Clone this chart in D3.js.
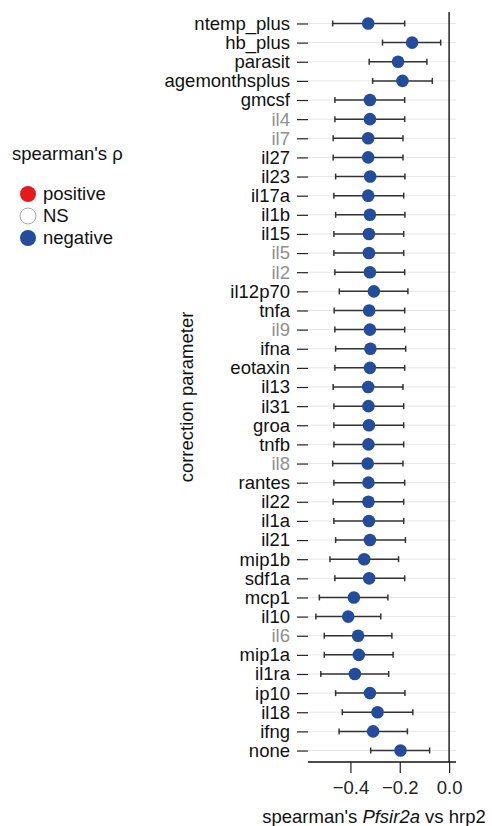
<!DOCTYPE html>
<html>
<head>
<meta charset="utf-8">
<script src="https://cdn.jsdelivr.net/npm/d3@7"></script>
<style>
  body { margin: 0; background: #fff; }
  svg { font-family: "Liberation Sans", Arial, Helvetica, sans-serif; }
</style>
</head>
<body>
<svg width="492" height="826"></svg>
<script>
var params = ["ntemp_plus", "hb_plus", "parasit", "agemonthsplus", "gmcsf", "il4", "il7", "il27", "il23", "il17a",
  "il1b", "il15", "il5", "il2", "il12p70", "tnfa", "il9", "ifna", "eotaxin", "il13",
  "il31", "groa", "tnfb", "il8", "rantes", "il22", "il1a", "il21", "mip1b", "sdf1a",
  "mcp1", "il10", "il6", "mip1a", "il1ra", "ip10", "il18", "ifng", "none"];
var rho = [-0.328, -0.150, -0.207, -0.189, -0.321, -0.321, -0.328, -0.328, -0.320, -0.328,
  -0.321, -0.325, -0.325, -0.321, -0.305, -0.324, -0.321, -0.319, -0.321, -0.328,
  -0.327, -0.325, -0.327, -0.330, -0.327, -0.327, -0.325, -0.321, -0.344, -0.324,
  -0.386, -0.409, -0.369, -0.366, -0.382, -0.321, -0.290, -0.308, -0.197];
var lower = [-0.472, -0.270, -0.324, -0.310, -0.463, -0.463, -0.470, -0.470, -0.460, -0.467,
  -0.460, -0.467, -0.467, -0.463, -0.445, -0.466, -0.463, -0.460, -0.463, -0.470,
  -0.467, -0.467, -0.467, -0.472, -0.467, -0.470, -0.467, -0.460, -0.483, -0.463,
  -0.526, -0.540, -0.506, -0.506, -0.520, -0.460, -0.433, -0.446, -0.318];
var upper = [-0.180, -0.034, -0.090, -0.068, -0.180, -0.180, -0.187, -0.187, -0.179, -0.184,
  -0.179, -0.184, -0.184, -0.180, -0.167, -0.180, -0.180, -0.176, -0.180, -0.187,
  -0.184, -0.184, -0.184, -0.187, -0.180, -0.184, -0.184, -0.177, -0.205, -0.180,
  -0.248, -0.277, -0.232, -0.227, -0.245, -0.179, -0.147, -0.169, -0.079];
// labels drawn in grey
var greyParams = ["il4", "il7", "il5", "il2", "il9", "il8", "il6"];
var xTicks = [-0.4, -0.2, 0.0];
var legendLabels = ["positive", "NS", "negative"];
var legendFill = {positive: "#e41a1c", NS: "#ffffff", negative: "#234c9c"};

var data = params.map(function(p, i) {
  return {param: p, rho: rho[i], lo: lower[i], hi: upper[i], sign: "negative"};
});

var svg = d3.select("svg"),
    margin = {top: 12, right: 36, bottom: 64, left: 308},
    width = +svg.attr("width") - margin.left - margin.right,
    height = +svg.attr("height") - margin.top - margin.bottom,
    g = svg.append("g").attr("transform", "translate(" + margin.left + "," + margin.top + ")");

var x = d3.scaleLinear()
    .domain([-0.572, 0.028])
    .range([0, width]);
var y = d3.scalePoint()
    .domain(params)
    .range([0, height])
    .padding(0.6);

// grid lines
g.append("g")
  .selectAll("line")
  .data(params)
  .enter().append("line")
    .attr("x1", 0)
    .attr("x2", width)
    .attr("y1", function(d) { return y(d); })
    .attr("y2", function(d) { return y(d); })
    .style("stroke", "#e6e6e6")
    .style("stroke-width", 1);

// zero line
g.append("line")
    .attr("x1", x(0)).attr("x2", x(0))
    .attr("y1", 0).attr("y2", height)
    .style("stroke", "#000")
    .style("stroke-width", 1.3);

// y axis
var yAxis = g.append("g")
    .call(d3.axisLeft(y).tickSize(11).tickPadding(7));
yAxis.select(".domain").remove();
yAxis.selectAll(".tick line").style("stroke", "#222").style("stroke-width", 1.2);
yAxis.selectAll(".tick text")
    .style("font-size", "18.5px")
    .style("font-family", "inherit")
    .attr("fill", function(d) { return greyParams.indexOf(d) >= 0 ? "#909090" : "#111"; });

// x axis
var xAxis = g.append("g")
    .attr("transform", "translate(0," + height + ")")
    .call(d3.axisBottom(x).tickValues(xTicks).tickSize(11).tickPadding(8)
      .tickFormat(function(d) { return d3.format(".1f")(d).replace("-", "\u2212"); }));
xAxis.select(".domain").attr("d", "M0,0H" + width).style("stroke", "#111").style("stroke-width", 1.3);
xAxis.selectAll(".tick line").style("stroke", "#222").style("stroke-width", 1.2);
xAxis.selectAll(".tick text").style("font-size", "18.5px").style("font-family", "inherit").attr("fill", "#222");

// error bars
var bars = g.append("g").selectAll("g")
  .data(data)
  .enter().append("g")
    .attr("transform", function(d) { return "translate(0," + y(d.param) + ")"; });
bars.append("line")
    .attr("x1", function(d) { return x(d.lo); })
    .attr("x2", function(d) { return x(d.hi); })
    .style("stroke", "#333")
    .style("stroke-width", 1.5);
bars.append("line")
    .attr("x1", function(d) { return x(d.lo); })
    .attr("x2", function(d) { return x(d.lo); })
    .attr("y1", -3).attr("y2", 3)
    .style("stroke", "#333")
    .style("stroke-width", 1.5);
bars.append("line")
    .attr("x1", function(d) { return x(d.hi); })
    .attr("x2", function(d) { return x(d.hi); })
    .attr("y1", -3).attr("y2", 3)
    .style("stroke", "#333")
    .style("stroke-width", 1.5);
bars.append("circle")
    .attr("cx", function(d) { return x(d.rho); })
    .attr("r", 6.3)
    .style("fill", function(d) { return legendFill[d.sign]; });

// axis titles
svg.append("text")
    .attr("x", margin.left + width / 2 - 8)
    .attr("y", 823)
    .attr("text-anchor", "middle")
    .style("font-size", "18.5px")
    .attr("fill", "#111")
    .html('spearman\'s <tspan font-style="italic">Pfsir2a</tspan> vs hrp2');

svg.append("text")
    .attr("transform", "translate(193," + (margin.top + height / 2 + 10) + ") rotate(-90)")
    .attr("text-anchor", "middle")
    .style("font-size", "18.5px")
    .attr("fill", "#111")
    .text("correction parameter");

// legend
var legend = svg.append("g").attr("transform", "translate(12,160)");
legend.append("text")
    .style("font-size", "18.5px")
    .attr("fill", "#111")
    .text("spearman's \u03c1");
var items = legend.selectAll(".item")
  .data(legendLabels)
  .enter().append("g")
    .attr("class", "item")
    .attr("transform", function(d, i) { return "translate(0," + (34 + i * 22) + ")"; });
items.append("circle")
    .attr("cx", 16)
    .attr("r", 8)
    .style("fill", function(d) { return legendFill[d]; })
    .style("stroke", function(d) { return d === "NS" ? "#aaa" : "none"; })
    .style("stroke-width", 1);
items.append("text")
    .attr("x", 31)
    .attr("y", 6)
    .style("font-size", "18.5px")
    .attr("fill", "#111")
    .text(function(d) { return d; });
</script>
</body>
</html>
